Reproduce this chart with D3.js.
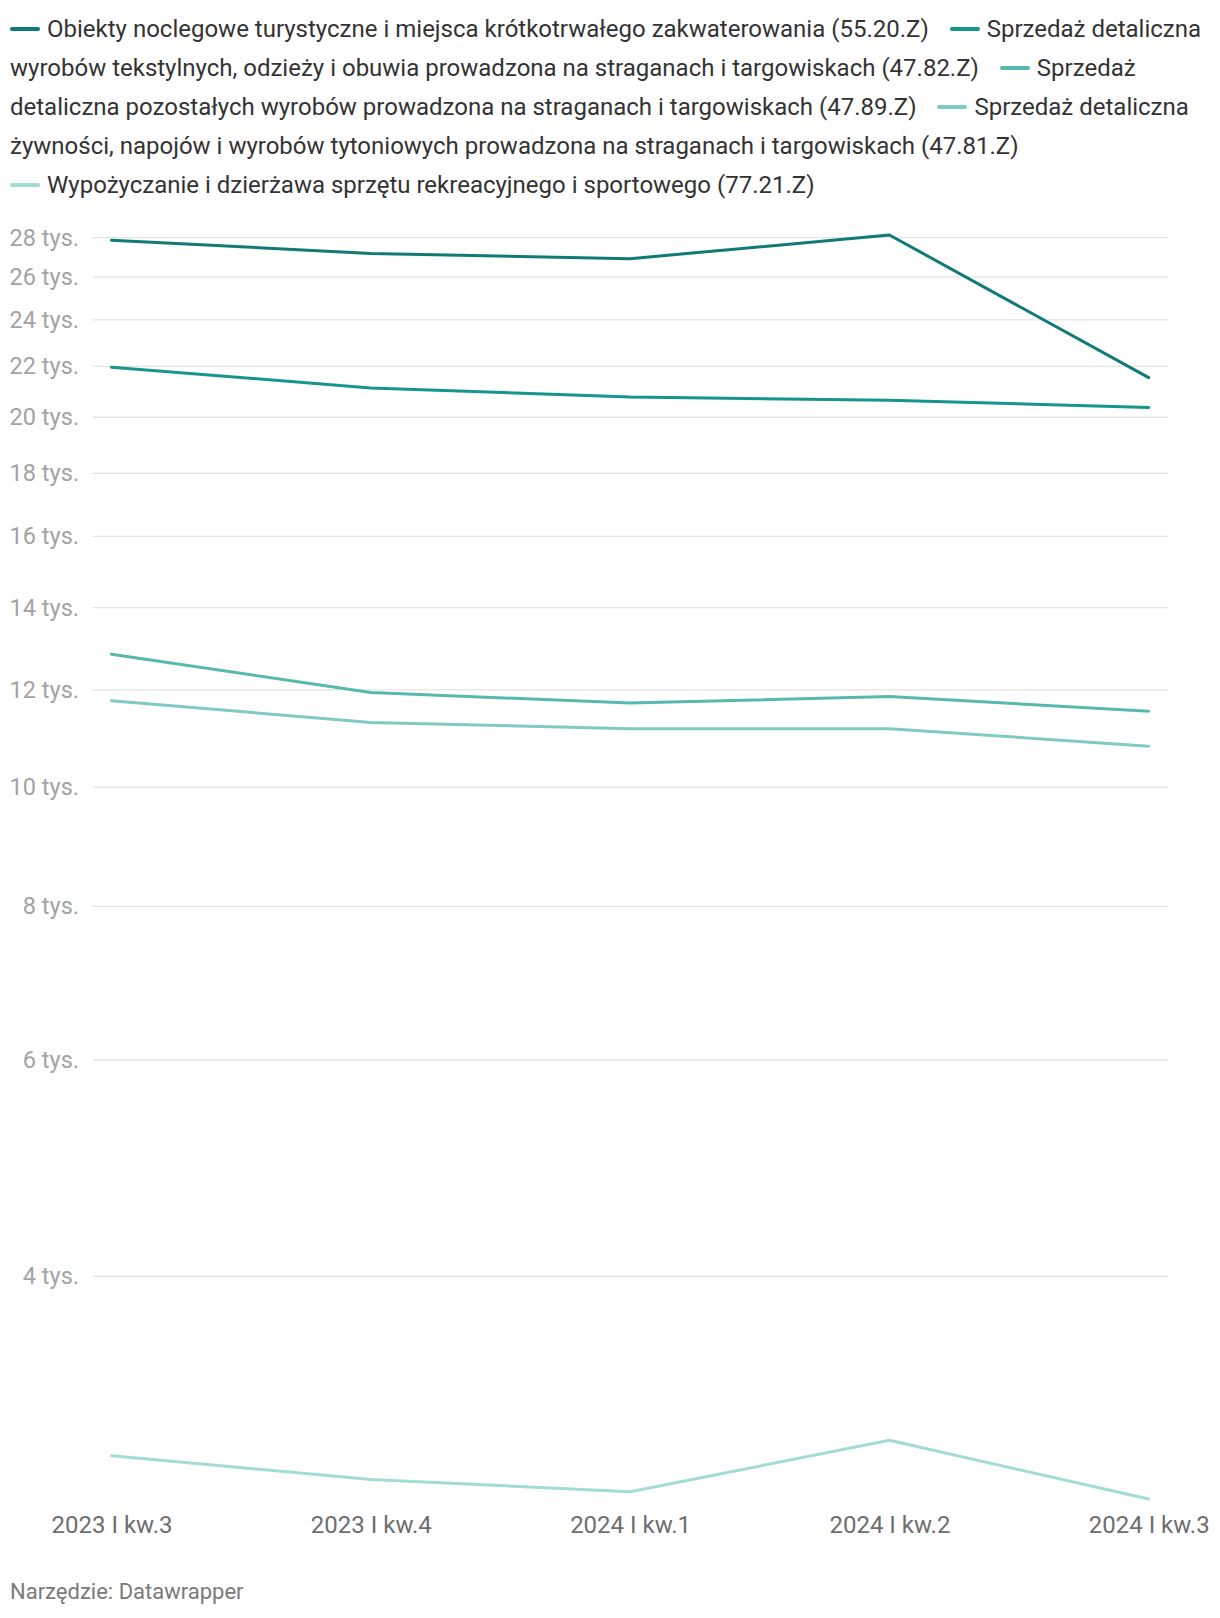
<!DOCTYPE html>
<html>
<head>
<meta charset="utf-8">
<script src="https://cdn.jsdelivr.net/npm/d3@7"></script>
<style>
  html, body { margin: 0; padding: 0; background: #fff; }
  body { width: 1220px; height: 1618px; position: relative; font-family: Roboto, "Noto Sans", sans-serif; }
  #legend { position: absolute; left: 10px; top: 10px; width: 1200px; font-size: 24px; line-height: 39px; color: #333; }
  .gap { display: inline-block; width: 9px; }
  .nw { white-space: nowrap; }
  .sw { display: inline-block; width: 30px; height: 4px; border-radius: 2px; vertical-align: middle; margin-right: 7px; position: relative; top: -2px; }
  svg { position: absolute; left: 0; top: 0; }
</style>
</head>
<body>
<svg id="chart" width="1220" height="1618"></svg>
<div id="legend"></div>
<script>
const categories = ["2023 I kw.3", "2023 I kw.4", "2024 I kw.1", "2024 I kw.2", "2024 I kw.3"];
const seriesNames = [
  "Obiekty noclegowe turystyczne i miejsca krótkotrwałego zakwaterowania (55.20.Z)",
  "Sprzedaż detaliczna wyrobów tekstylnych, odzieży i obuwia prowadzona na straganach i targowiskach (47.82.Z)",
  "Sprzedaż detaliczna pozostałych wyrobów prowadzona na straganach i targowiskach (47.89.Z)",
  "Sprzedaż detaliczna żywności, napojów i wyrobów tytoniowych prowadzona na straganach i targowiskach (47.81.Z)",
  "Wypożyczanie i dzierżawa sprzętu rekreacyjnego i sportowego (77.21.Z)"
];
const colors = ["#117a77", "#16958f", "#57b9ae", "#80cbc1", "#a3dcd4"];
const obiekty = [27840, 27150, 26890, 28110, 21520];
const tekstylia = [21940, 21110, 20750, 20630, 20350];
const pozostale = [12820, 11930, 11700, 11840, 11520];
const zywnosc = [11750, 11280, 11150, 11150, 10790];
const wypozyczanie = [2856, 2732, 2670, 2940, 2634];
const seriesValues = [obiekty, tekstylia, pozostale, zywnosc, wypozyczanie];
const yTicks = [4000, 6000, 8000, 10000, 12000, 14000, 16000, 18000, 20000, 22000, 24000, 26000, 28000];
const yTickLabels = ["4 tys.", "6 tys.", "8 tys.", "10 tys.", "12 tys.", "14 tys.", "16 tys.", "18 tys.", "20 tys.", "22 tys.", "24 tys.", "26 tys.", "28 tys."];
const footer = "Narzędzie: Datawrapper";

// legend: each word its own inline span so wrapping matches inline flow
const legendNode = document.getElementById("legend");
const legend = d3.select(legendNode);
seriesNames.forEach((name, i) => {
  const words = name.split(" ");
  const head = legend.append("span").attr("class", "nw");
  head.append("span").attr("class", "sw").style("background", colors[i]);
  head.append("span").text(words[0]);
  words.slice(1).forEach(w => {
    legendNode.appendChild(document.createTextNode(" "));
    legend.append("span").text(w);
  });
  if (i < seriesNames.length - 1) {
    legendNode.appendChild(document.createTextNode(" "));
    legend.append("span").attr("class", "gap");
    legendNode.appendChild(document.createTextNode(" "));
  }
});

const svg = d3.select("#chart");
const allVals = seriesValues.flat();
const y = d3.scaleLog().domain(d3.extent(allVals)).range([1499, 235]);
const x = d3.scalePoint().domain(categories).range([111.5, 1148.7]);
const gridX1 = 93, gridX2 = 1168;
const labelX = 79;

// grid
const yAxis = d3.axisLeft(y).tickValues(yTicks).tickSize(0)
  .tickFormat((d, i) => yTickLabels[i]);
const gy = svg.append("g").attr("transform", `translate(${labelX},0)`).call(yAxis);
gy.select(".domain").remove();
gy.selectAll("text").attr("x", 0).attr("dy", "0.34em")
  .attr("fill", "#a3a3a3").style("font-family", "Roboto, sans-serif").style("font-size", "23.5px");
gy.selectAll(".tick").append("line")
  .attr("x1", gridX1 - labelX).attr("x2", gridX2 - labelX)
  .attr("stroke", "#e3e3e3").attr("stroke-width", 1.3);

// x axis
const xAxis = d3.axisBottom(x).tickSize(0);
const gx = svg.append("g").attr("transform", `translate(0,${1516})`).call(xAxis);
gx.select(".domain").remove();
gx.selectAll("text").attr("y", 0).attr("dy", "0.71em")
  .attr("fill", "#6e6e6e").style("font-family", "Roboto, sans-serif").style("font-size", "24px");

// lines
const line = d3.line().x((d, i) => x(categories[i])).y(d => y(d));
seriesValues.slice().reverse().forEach((vals, ri) => {
  const i = seriesValues.length - 1 - ri;
  svg.append("path").datum(vals)
    .attr("d", line)
    .attr("fill", "none")
    .attr("stroke", colors[i])
    .attr("stroke-width", 3)
    .attr("stroke-linecap", "round")
    .attr("stroke-linejoin", "round");
});

// footer
svg.append("text").attr("x", 10).attr("y", 1592).attr("dy", "0.34em")
  .attr("fill", "#7a7a7a").style("font-family", "Roboto, sans-serif").style("font-size", "22px")
  .text(footer);
</script>
</body>
</html>
